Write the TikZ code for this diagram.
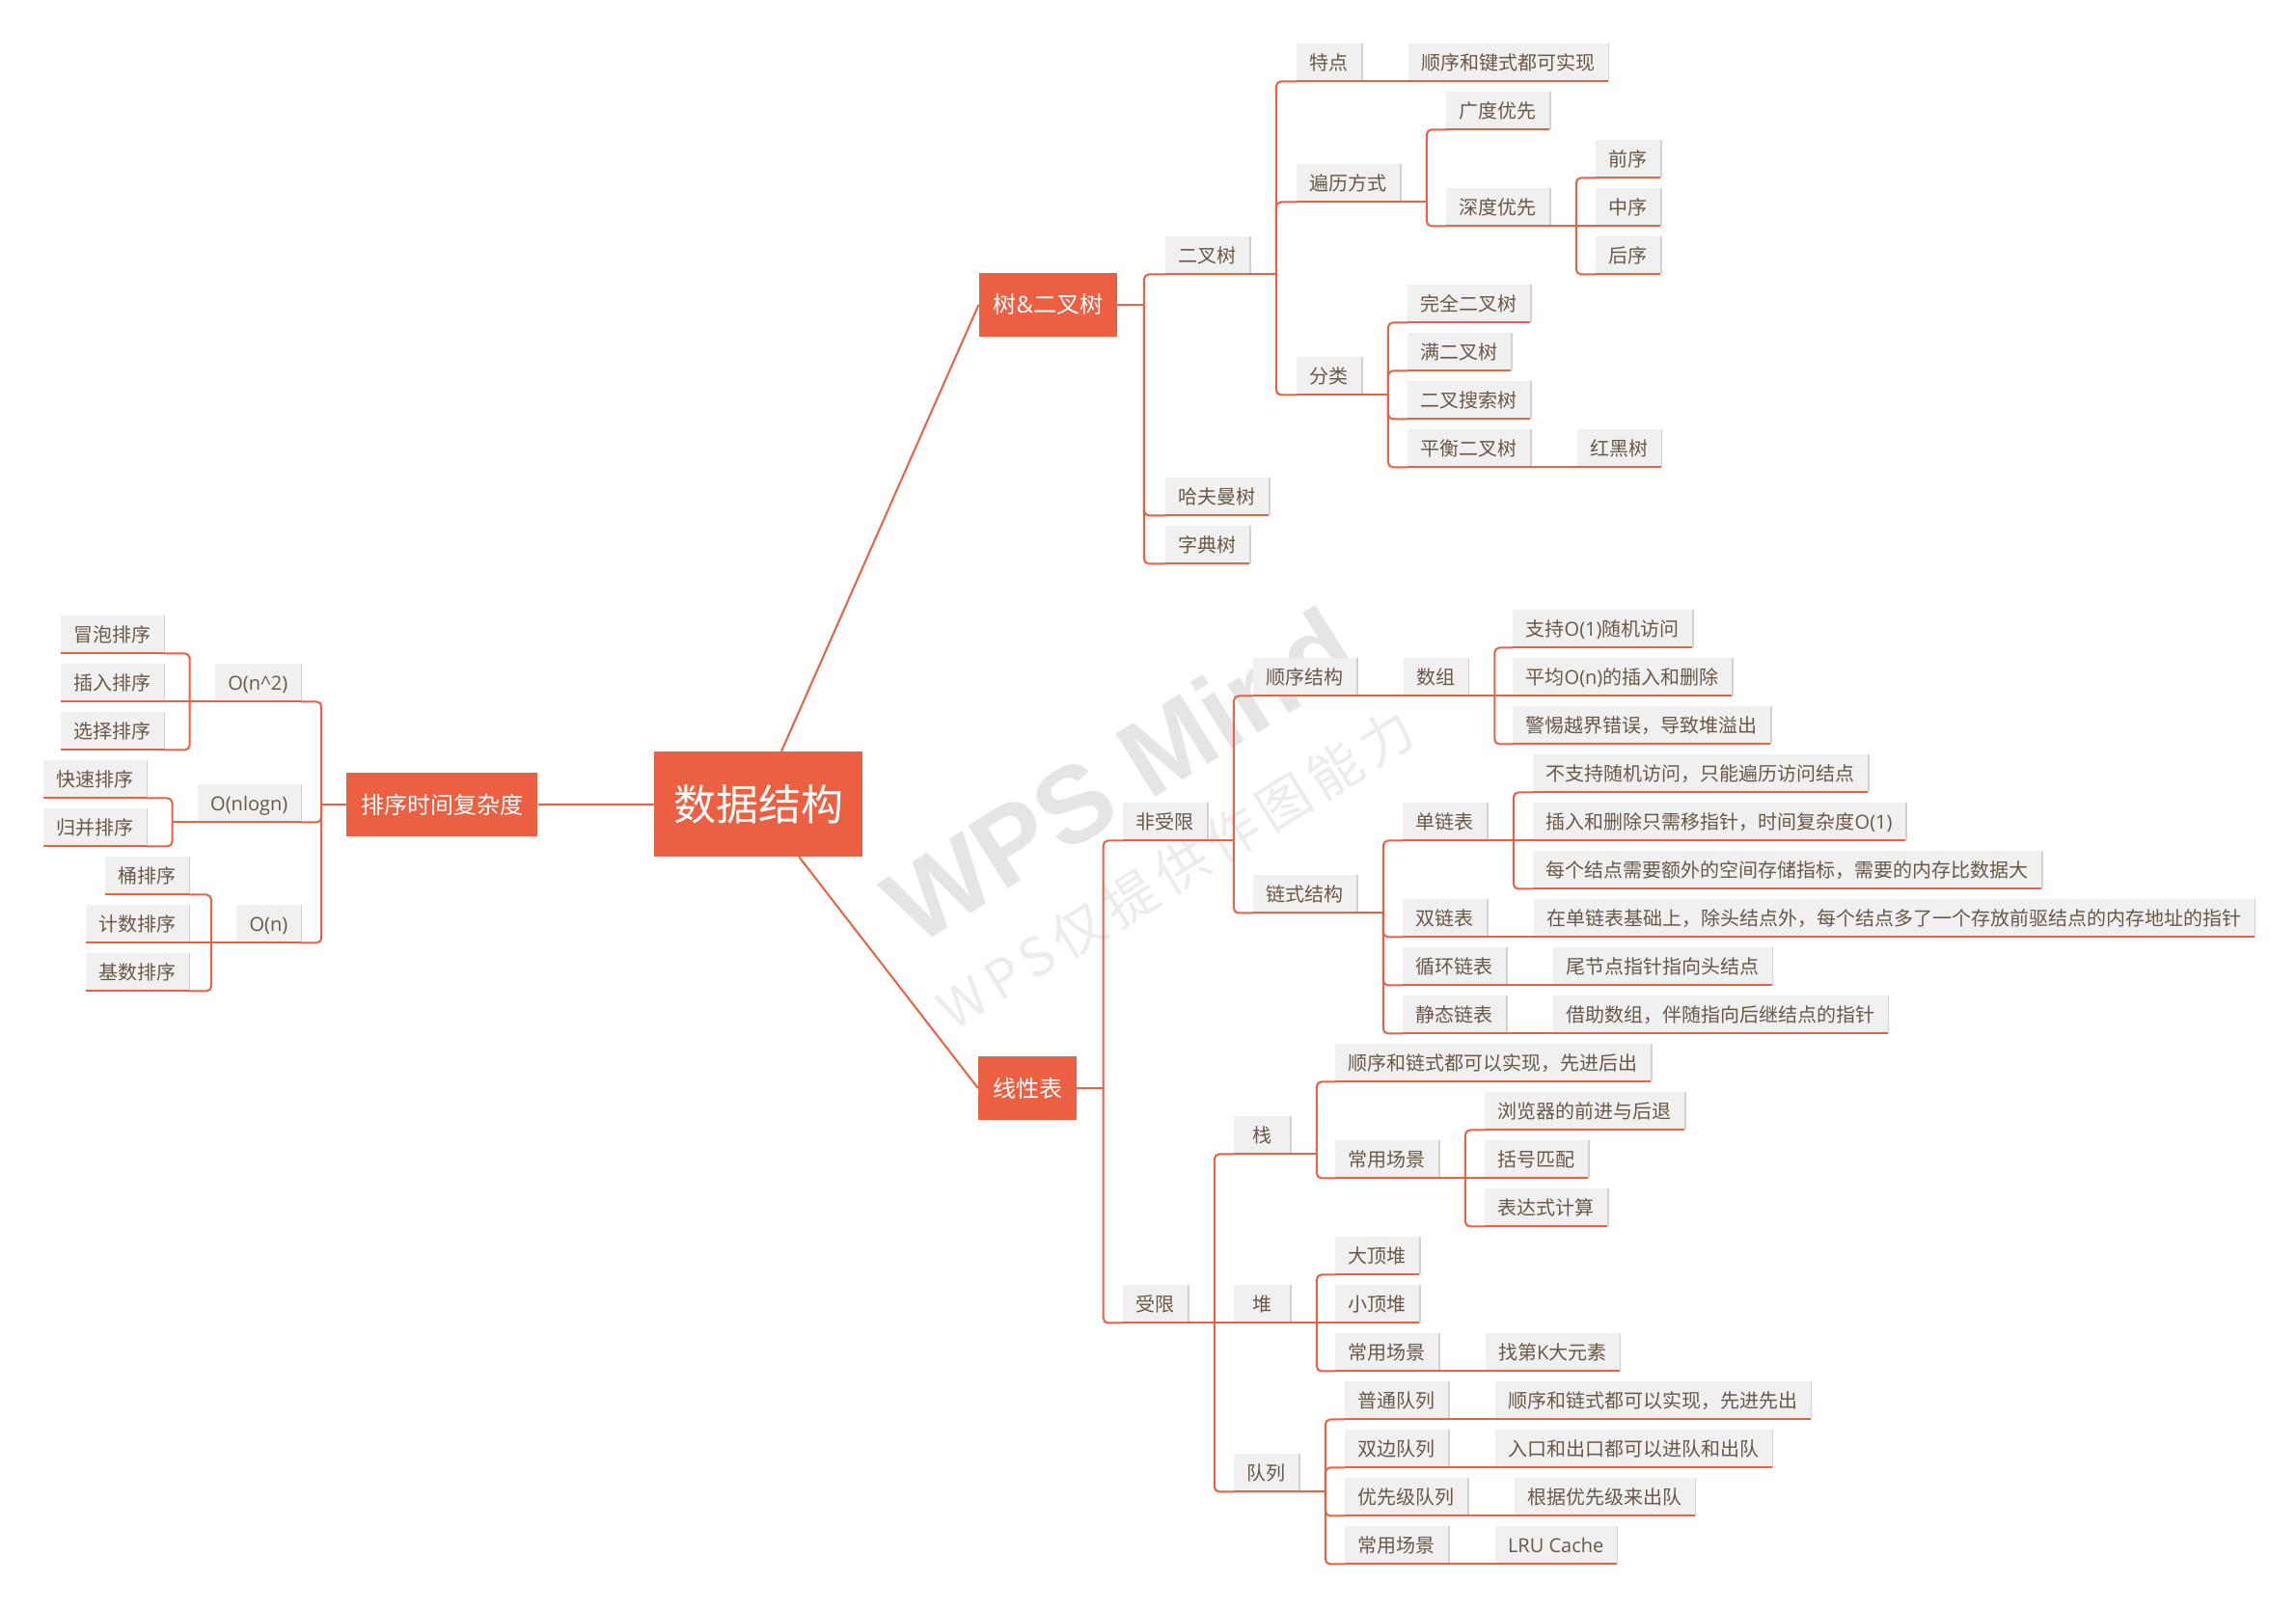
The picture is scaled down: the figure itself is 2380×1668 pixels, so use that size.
\documentclass[tikz,border=0pt]{standalone}
\usepackage{fontspec}
\setmainfont{Noto Sans CJK SC}
\newfontfamily\enfont{Open Sans}
\newfontfamily\wmfont{Liberation Sans}
\usetikzlibrary{positioning}

\definecolor{mmorange}{RGB}{235,95,67}
\definecolor{mmgray}{RGB}{240,240,240}
\definecolor{mmtext}{RGB}{106,88,70}
\definecolor{mmshade}{RGB}{210,210,210}
\definecolor{mmmark}{RGB}{229,229,229}

% parent anchor, junction name, children (elbow to the right / to the left)
\newcommand{\branchright}[3]{%
  \draw[link] (#1) -- ++(27.5,0) coordinate (#2);
  \foreach \kid in {#3} {\draw[link] (#2) |- (\kid.south west);}}
\newcommand{\branchleft}[3]{%
  \draw[link] (#1) -- ++(-26,0) coordinate (#2);
  \foreach \kid in {#3} {\draw[link] (#2) |- (\kid.south east);}}

\begin{document}
\begin{tikzpicture}[x=1pt, y=-1pt,
    root/.style={fill=mmorange, text=white, font=\fontsize{44}{50}\selectfont,
      minimum width=216pt, minimum height=109pt, text height=38.7pt, text depth=5.3pt},
    topic/.style={fill=mmorange, text=white, font=\fontsize{24}{28}\selectfont,
      minimum height=66pt, inner xsep=15pt, text height=21pt, text depth=3pt},
    sub/.style={fill=mmgray, text=mmtext, font=\fontsize{20}{24}\selectfont,
      minimum height=39pt, minimum width=58pt, inner xsep=13.5pt, inner ysep=0pt,
      text height=17.6pt, text depth=2.4pt,
      append after command={([xshift=0.7pt]\tikzlastnode.north east) edge[draw=mmshade, line width=1.4pt] ([xshift=0.7pt]\tikzlastnode.south east)
        (\tikzlastnode.south west) edge[draw=mmorange, line width=2pt] (\tikzlastnode.south east)}},
    link/.style={draw=mmorange, line width=2pt, rounded corners=5pt},
    node distance=48pt]

\fill[white] (0,0) rectangle (2380,1668);
\useasboundingbox (0,0) rectangle (2380,1668);

% watermark
\node[rotate=32, text=mmmark, font=\wmfont\bfseries\fontsize{112}{120}\selectfont] (mark) at (1160,803) {WPS Mind};
\node[rotate=32, text=mmmark!75, font=\fontsize{55}{60}\selectfont\addfontfeature{LetterSpace=14}] (markx) at (1219,901) {WPS仅提供作图能力};

% centre and main topics
\node[root] (ds) at (786,833.5) {数据结构};
\node[topic, anchor=west] (tree) at (1014.5,315.8) {树{\enfont\&}二叉树};
\node[topic, anchor=west] (linear) at (1013.8,1128) {线性表};
\node[topic, anchor=east] (sorting) at (557.6,834) {排序时间复杂度};

% tree
\node[sub, anchor=north west] (bt) at (1208,245) {二叉树};
\node[sub, anchor=north west] (feat) at (1344,45) {特点};
\node[sub, right=of feat] (featx) {顺序和键式都可实现};
\node[sub, anchor=north west] (trav) at (1344,170) {遍历方式};
\node[sub, anchor=north west] (bfs) at (1499,95) {广度优先};
\node[sub, anchor=north west] (dfs) at (1499,195) {深度优先};
\node[sub, anchor=north west] (pre) at (1654,145) {前序};
\node[sub, anchor=north west] (ino) at (1654,195) {中序};
\node[sub, anchor=north west] (post) at (1654,245) {后序};
\node[sub, anchor=north west] (kind) at (1344,370) {分类};
\node[sub, anchor=north west] (full) at (1459,295) {完全二叉树};
\node[sub, anchor=north west] (perfect) at (1459,345) {满二叉树};
\node[sub, anchor=north west] (bst) at (1459,395) {二叉搜索树};
\node[sub, anchor=north west] (avl) at (1459,445) {平衡二叉树};
\node[sub, right=of avl] (rb) {红黑树};
\node[sub, anchor=north west] (huff) at (1208,495) {哈夫曼树};
\node[sub, anchor=north west] (trie) at (1208,545) {字典树};

% linear list
\node[sub, anchor=north west] (free) at (1164,832) {非受限};
\node[sub, anchor=north west] (seq) at (1299,682) {顺序结构};
\node[sub, right=of seq] (arr) {数组};
\node[sub, anchor=north west] (arr1) at (1568,632) {支持{\enfont O(1)}随机访问};
\node[sub, anchor=north west] (arr2) at (1568,682) {平均{\enfont O(n)}的插入和删除};
\node[sub, anchor=north west] (arr3) at (1568,732) {警惕越界错误，导致堆溢出};
\node[sub, anchor=north west] (chain) at (1299,907) {链式结构};
\node[sub, anchor=north west] (single) at (1454,832) {单链表};
\node[sub, anchor=north west] (sgl1) at (1589,782) {不支持随机访问，只能遍历访问结点};
\node[sub, anchor=north west] (sgl2) at (1589,832) {插入和删除只需移指针，时间复杂度{\enfont O(1)}};
\node[sub, anchor=north west] (sgl3) at (1589,882) {每个结点需要额外的空间存储指标，需要的内存比数据大};
\node[sub, anchor=north west] (double) at (1454,932) {双链表};
\node[sub, right=of double] (double1) {在单链表基础上，除头结点外，每个结点多了一个存放前驱结点的内存地址的指针};
\node[sub, anchor=north west] (circ) at (1454,982) {循环链表};
\node[sub, right=of circ] (circ1) {尾节点指针指向头结点};
\node[sub, anchor=north west] (static) at (1454,1032) {静态链表};
\node[sub, right=of static] (static1) {借助数组，伴随指向后继结点的指针};

\node[sub, anchor=north west] (limited) at (1164,1332) {受限};
\node[sub, anchor=north west] (stack) at (1279,1157) {栈};
\node[sub, anchor=north west] (stack1) at (1384,1082) {顺序和链式都可以实现，先进后出};
\node[sub, anchor=north west] (stackuse) at (1384,1182) {常用场景};
\node[sub, anchor=north west] (browser) at (1539,1132) {浏览器的前进与后退};
\node[sub, anchor=north west] (bracket) at (1539,1182) {括号匹配};
\node[sub, anchor=north west] (expr) at (1539,1232) {表达式计算};
\node[sub, anchor=north west] (heap) at (1279,1332) {堆};
\node[sub, anchor=north west] (maxheap) at (1384,1282) {大顶堆};
\node[sub, anchor=north west] (minheap) at (1384,1332) {小顶堆};
\node[sub, anchor=north west] (heapuse) at (1384,1382) {常用场景};
\node[sub, right=of heapuse] (kth) {找第{\enfont K}大元素};
\node[sub, anchor=north west] (queue) at (1279,1507) {队列};
\node[sub, anchor=north west] (q1) at (1394,1432) {普通队列};
\node[sub, right=of q1] (q1x) {顺序和链式都可以实现，先进先出};
\node[sub, anchor=north west] (q2) at (1394,1482) {双边队列};
\node[sub, right=of q2] (q2x) {入口和出口都可以进队和出队};
\node[sub, anchor=north west] (q3) at (1394,1532) {优先级队列};
\node[sub, right=of q3] (q3x) {根据优先级来出队};
\node[sub, anchor=north west] (q4) at (1394,1582) {常用场景};
\node[sub, right=of q4] (q4x) {{\enfont LRU Cache}};

% sorting
\node[sub, anchor=north east] (on2) at (312,688) {{\enfont O(n\textasciicircum 2)}};
\node[sub, anchor=north east] (onlogn) at (312,813) {{\enfont O(nlogn)}};
\node[sub, anchor=north east] (on) at (312,938) {{\enfont O(n)}};
\node[sub, anchor=north east] (bubble) at (170,638) {冒泡排序};
\node[sub, anchor=north east] (insertion) at (170,688) {插入排序};
\node[sub, anchor=north east] (selection) at (170,738) {选择排序};
\node[sub, anchor=north east] (quick) at (152,788) {快速排序};
\node[sub, anchor=north east] (merge) at (152,838) {归并排序};
\node[sub, anchor=north east] (bucket) at (196,888) {桶排序};
\node[sub, anchor=north east] (counting) at (196,938) {计数排序};
\node[sub, anchor=north east] (radix) at (196,988) {基数排序};

% connectors
\draw[link] (ds) -- (tree.west);
\draw[link] (ds) -- (linear.west);
\draw[link] (sorting.east) -- (ds);

\branchright{tree.east}{tree-j}{bt,huff,trie}
\branchright{bt.south east}{bt-j}{feat,trav,kind}
\draw[link] (feat.south east) -- (featx.south west);
\branchright{trav.south east}{trav-j}{bfs,dfs}
\branchright{dfs.south east}{dfs-j}{pre,post}
\draw[link] (dfs.south east) -- (ino.south west);
\branchright{kind.south east}{kind-j}{full,perfect,bst,avl}
\draw[link] (avl.south east) -- (rb.south west);

\branchright{linear.east}{linear-j}{free,limited}
\branchright{free.south east}{free-j}{seq,chain}
\draw[link] (seq.south east) -- (arr.south west);
\branchright{arr.south east}{arr-j}{arr1,arr3}
\draw[link] (arr.south east) -- (arr2.south west);
\branchright{chain.south east}{chain-j}{single,double,circ,static}
\branchright{single.south east}{single-j}{sgl1,sgl3}
\draw[link] (single.south east) -- (sgl2.south west);
\draw[link] (double.south east) -- (double1.south west);
\draw[link] (circ.south east) -- (circ1.south west);
\draw[link] (static.south east) -- (static1.south west);

\branchright{limited.south east}{limited-j}{stack,queue}
\draw[link] (limited.south east) -- (heap.south west);
\branchright{stack.south east}{stack-j}{stack1,stackuse}
\branchright{stackuse.south east}{stackuse-j}{browser,expr}
\draw[link] (stackuse.south east) -- (bracket.south west);
\branchright{heap.south east}{heap-j}{maxheap,heapuse}
\draw[link] (heap.south east) -- (minheap.south west);
\draw[link] (heapuse.south east) -- (kth.south west);
\branchright{queue.south east}{queue-j}{q1,q2,q3,q4}
\foreach \q in {q1,q2,q3,q4}
  \draw[link] (\q.south east) -- (\q x.south west);

\branchleft{sorting.west}{sorting-j}{on2,onlogn,on}
\branchleft{on2.south west}{on2-j}{bubble,selection}
\draw[link] (on2.south west) -- (insertion.south east);
\branchleft{onlogn.south west}{onlogn-j}{quick,merge}
\branchleft{on.south west}{on-j}{bucket,radix}
\draw[link] (on.south west) -- (counting.south east);
\end{tikzpicture}
\end{document}
